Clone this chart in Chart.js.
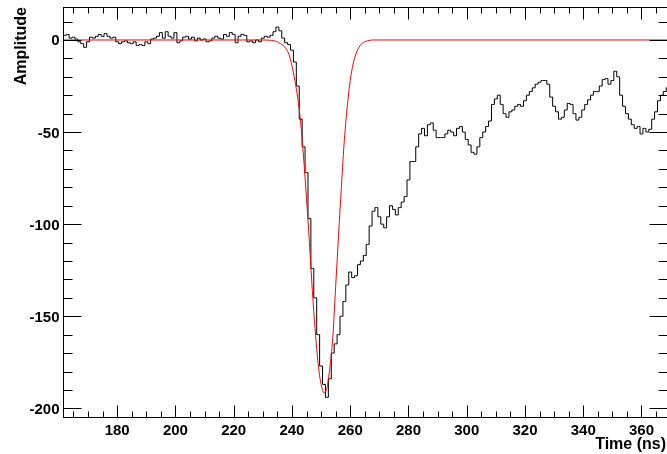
<!DOCTYPE html>
<html>
<head>
<meta charset="utf-8">
<script src="https://cdn.jsdelivr.net/npm/chart.js@4"></script>
<style>
  html, body { margin: 0; padding: 0; background: #fff; overflow: hidden; }
  #wrap { width: 670px; height: 454px; }
</style>
</head>
<body>
<div id="wrap"><canvas id="pulse" width="670" height="454"></canvas></div>
<script>
// histogram: 1 ns bins, first bin centred on 161 ns
const binStart = 161;
const binWidth = 1;
const amplitude = [
  2, 2.5, 3, 1, 1.5, 0.5, -1, -2, -4, -1,
  1.5, 1, 2, 3, 2, 3.5, 2, 1, 1.5, -1,
  -2, -1, -0.5, -1.5, -2, -1, -3, -2.5, -3, -1,
  -2, 0.5, 1, 2, 4, 1, 4.5, 2, 1, 4,
  -1.5, -0.5, 1.5, 2, 0.5, 1.5, -0.5, 1, 0, 0.5,
  -1, -0.5, 1, 2, 1, 0.5, 3, 2, 4, 3,
  -1.5, 2, 3, 2.5, -1, -0.5, -1.5, 0, -1, 1,
  2, 1.5, 2.5, 4.5, 7, 5, 1, -1.5, -2.5, -5.5,
  -12, -25, -43, -58, -72, -97, -124, -140, -160, -177,
  -187, -194, -184, -170, -165, -160, -150, -142, -133, -126,
  -129, -128, -122, -120, -117, -111, -101, -93, -91, -96,
  -100, -102, -96, -90, -92, -95, -91, -88, -85, -76,
  -66, -66, -58, -51, -48, -52, -46, -45, -49, -53,
  -53, -53, -51, -49, -50, -52, -48, -47, -50, -54,
  -57, -61, -62, -58, -53, -50, -47, -44, -35, -32,
  -30, -35, -40, -42, -39, -38, -36, -35, -36, -33,
  -30, -28, -26, -24, -23, -22, -22, -24, -31, -36,
  -39, -43, -42, -38, -34.5, -35, -40, -43.5, -42, -38,
  -35, -32.5, -30, -28, -28, -25, -21.5, -21, -24, -22,
  -17, -20, -30, -36, -40, -43, -46, -48, -47, -51,
  -48, -50, -48.5, -43, -39, -33, -30, -28, -26
];

// fitted pulse shape (red)
const fitTime = [161, 230, 232, 234, 235, 236, 237, 238, 239, 240, 241, 242, 243, 244, 245, 246, 247, 248, 249, 250,
  251, 252, 253, 254, 255, 256, 257, 258, 259, 260, 261, 262, 263, 264, 265, 266, 268, 370];
const fitAmp = [0, 0, -0.1, -0.5, -1, -2, -3, -4.8, -8, -14, -22, -31.5, -45, -64, -86, -110, -136, -158, -176, -187,
  -191.5, -189, -178, -162, -134, -106, -79, -54, -36, -22, -13, -7.5, -4, -2, -1, -0.4, 0, 0];

const xTickLabels = [180, 200, 220, 240, 260, 280, 300, 320, 340, 360];
const yTickLabels = [0, -50, -100, -150, -200];
const xMinorStep = 5;
const yMinorStep = 10;

const histData = amplitude.map((v, i) => ({ x: binStart + i * binWidth, y: v }));
const fitData = fitTime.map((t, i) => ({ x: t, y: fitAmp[i] }));

const FONT = "'Liberation Sans', Arial, Helvetica, sans-serif";

// ROOT-like frame: box, inward ticks on all four sides, bold labels
const rootFrame = {
  id: 'rootFrame',
  afterDraw(chart) {
    const { ctx, chartArea: a, scales: { x, y } } = chart;
    const L = Math.round(a.left) + 0.5, R = Math.round(a.right) - 0.5;
    const T = Math.round(a.top) + 0.5, B = Math.round(a.bottom) + 0.5;
    ctx.save();
    ctx.strokeStyle = '#000';
    ctx.lineWidth = 1;
    ctx.strokeRect(L, T, R - L, B - T);

    ctx.beginPath();
    // x ticks (bottom + top)
    for (let t = Math.ceil(x.min / xMinorStep) * xMinorStep; t <= x.max; t += xMinorStep) {
      const px = Math.round(x.getPixelForValue(t)) + 0.5;
      const len = xTickLabels.includes(t) ? 12 : 6;
      ctx.moveTo(px, B); ctx.lineTo(px, B - len);
      ctx.moveTo(px, T); ctx.lineTo(px, T + len);
    }
    // y ticks (left + right)
    for (let v = Math.ceil(y.min / yMinorStep) * yMinorStep; v <= y.max; v += yMinorStep) {
      const py = Math.round(y.getPixelForValue(v)) + 0.5;
      const len = yTickLabels.includes(v) ? 18 : 9;
      ctx.moveTo(L, py); ctx.lineTo(L + len, py);
      ctx.moveTo(R, py); ctx.lineTo(R - len, py);
    }
    ctx.stroke();

    ctx.fillStyle = '#000';
    ctx.font = 'bold 15px ' + FONT;
    ctx.textBaseline = 'alphabetic';
    ctx.textAlign = 'center';
    xTickLabels.forEach(t => ctx.fillText(String(t), x.getPixelForValue(t), 434.5));
    ctx.textAlign = 'right';
    yTickLabels.forEach(v => ctx.fillText(String(v), 59.5, y.getPixelForValue(v) + 5.5));

    ctx.font = 'bold 16px ' + FONT;
    ctx.fillText('Time (ns)', 666, 449);

    ctx.translate(26, 7);
    ctx.rotate(-Math.PI / 2);
    ctx.textAlign = 'right';
    ctx.fillText('Amplitude', 0, 0);
    ctx.restore();
  }
};

new Chart(document.getElementById('pulse'), {
  type: 'line',
  data: {
    datasets: [
      {
        label: 'fit',
        data: fitData,
        borderColor: '#ff0000',
        borderWidth: 1,
        pointRadius: 0,
        cubicInterpolationMode: 'monotone',
        order: 0
      },
      {
        label: 'signal',
        data: histData,
        borderColor: '#000000',
        borderWidth: 1,
        pointRadius: 0,
        stepped: 'middle',
        order: 1
      }
    ]
  },
  options: {
    responsive: false,
    animation: false,
    devicePixelRatio: 1,
    layout: { padding: { left: 63, right: 2, top: 7, bottom: 37 } },
    plugins: { legend: { display: false }, tooltip: { enabled: false } },
    scales: {
      x: { type: 'linear', min: 161.4, max: 369.1, display: false },
      y: { type: 'linear', min: -204.7, max: 17.9, display: false }
    }
  },
  plugins: [rootFrame]
});
</script>
</body>
</html>
